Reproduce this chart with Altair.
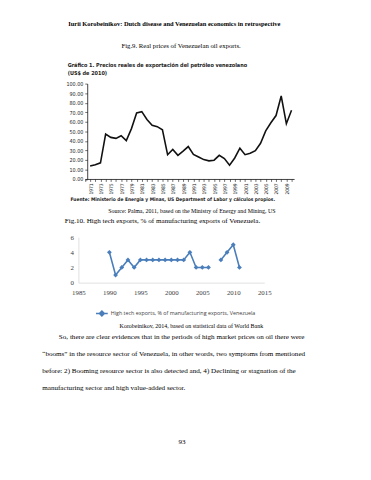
import altair as alt
import pandas as pd

# ---------------- data ----------------
years_oil = list(range(1971, 2011))
oil_prices = [13.5, 15.0, 16.9, 47.0, 43.6, 42.6, 45.3, 40.2, 52.8, 69.2,
              70.6, 62.4, 56.2, 54.9, 51.5, 25.4, 31.0, 24.8, 29.2, 34.0,
              25.8, 23.0, 20.3, 19.0, 19.7, 24.8, 21.4, 14.5, 22.0, 32.3,
              25.5, 26.9, 29.6, 37.4, 50.4, 59.0, 66.5, 87.0, 58.0, 72.0]
oil_y_ticks = list(range(0, 101, 10))
oil_x_ticks = list(range(1970, 2011))

years_ht = list(range(1990, 2012))
high_tech = [4, 1, 2, 3, 2, 3, 3, 3, 3, 3, 3, 3, 3, 4, 2, 2, 2, None, 3, 4, 5, 2]
ht_series = "High tech exports, % of manufacturing exports, Venezuela"
ht_x_ticks = [1985, 1990, 1995, 2000, 2005, 2010, 2015]
ht_y_ticks = [0, 2, 4, 6]

HEADER = "Iurii Korobeinikov: Dutch disease and Venezuelan economics in retrospective"
FIG9 = "Fig.9. Real prices of Venezuelan oil exports."
GRAF_T1 = "Gráfico 1. Precios reales de exportación del petróleo venezolano"
GRAF_T2 = "(US$ de 2010)"
FUENTE = "Fuente: Ministerio de Energía y Minas, US Department of Labor y cálculos propios."
SOURCE9 = "Source: Palma, 2011, based on the Ministry of Energy and Mining, US"
FIG10 = "Fig.10. High tech exports, % of manufacturing exports of Venezuela."
SOURCE10 = "Korobeinikov, 2014, based on statistical data of World Bank"
BODY = [
    "So, there are clear evidences that in the periods of high market prices on oil there were",
    "\u201cbooms\u201d in the resource sector of Venezuela, in other words, two symptoms from mentioned",
    "before: 2) Booming resource sector is also detected and, 4) Declining or stagnation of the",
    "manufacturing sector and high value-added sector.",
]
PAGE_NO = "93"

# ---------------- layout ----------------
W, H = 363, 472
M = 8  # page margin
SERIF = "Liberation Serif, Times New Roman, serif"
NARROW = "Liberation Sans Narrow, DejaVu Sans Condensed, Arial Narrow, sans-serif"


def txt(s, x, y, size, font=SERIF, weight="normal", align="center", style="normal", color="#000"):
    return alt.Chart(alt.Data(values=[{}])).mark_text(
        text=s, fontSize=size, font=font, fontWeight=weight, align=align,
        baseline="middle", fontStyle=style, color=color
    ).encode(x=alt.value(x - M), y=alt.value(y - M))


texts = [
    txt(HEADER, 178, 19, 6.6, weight="bold"),
    txt(FIG9, 185, 42, 6.9),
    txt(GRAF_T1, 69, 61.5, 5.6, font=NARROW, weight="bold", align="left", color="#222"),
    txt(GRAF_T2, 69, 69.5, 5.6, font=NARROW, weight="bold", align="left", color="#222"),
    txt(FUENTE, 72, 198, 5.0, font=NARROW, weight="bold", align="left", color="#222"),
    txt(SOURCE9, 196, 210, 6.06),
    txt(FIG10, 166, 221, 7.27),
    txt(SOURCE10, 195.5, 328, 6.1),
    txt(BODY[0], 60, 339, 7.27, align="left"),
    txt(BODY[1], 43, 356.5, 7.27, align="left"),
    txt(BODY[2], 43, 374, 7.27, align="left"),
    txt(BODY[3], 43, 391.5, 7.27, align="left"),
    txt(PAGE_NO, 186, 447, 7.27),
]

# ---------------- chart 1: oil prices ----------------
df_oil = pd.DataFrame({"year": years_oil, "price": oil_prices})
px_per_year = 5.28
x0 = 92 - M  # 1971
oil_chart = alt.Chart(df_oil).mark_line(color="#111", strokeWidth=1.6).encode(
    x=alt.X("year:Q",
            scale=alt.Scale(domain=[1970, 2010.5], range=[x0 - px_per_year, x0 + 39.5 * px_per_year],
                            nice=False, zero=False),
            axis=alt.Axis(orient="bottom", offset=-(H - (177.5 - M)), values=oil_x_ticks,
                          labelExpr="(datum.value - 1971) % 2 == 0 ? datum.value : ''",
                          labelAngle=270, labelFont=NARROW, labelFontSize=5, labelColor="#222",
                          labelPadding=1.5, tickSize=2.5, tickColor="#111", domainColor="#111",
                          domainWidth=0.8, tickWidth=0.6, grid=False, title=None, labelFlush=False,
                          labelOverlap=False)),
    y=alt.Y("price:Q",
            scale=alt.Scale(domain=[0, 100], range=[177.5 - M, 80 - M], nice=False),
            axis=alt.Axis(orient="left", offset=-(89 - M), values=oil_y_ticks, format=".2f",
                          labelFont=NARROW, labelFontSize=5.5, labelColor="#222", labelPadding=2,
                          tickSize=2.5, tickColor="#111", domainColor="#111", domainWidth=0.8,
                          tickWidth=0.6, grid=False, title=None, labelFlush=False, labelOverlap=False)),
)

# ---------------- chart 2: high tech exports ----------------
df_ht = pd.DataFrame({"year": years_ht, "value": high_tech, "series": ht_series})
BLUE = "#4A7EBB"
ht_chart = alt.Chart(df_ht).mark_line(
    strokeWidth=1.6,
    point=alt.OverlayMarkDef(shape="diamond", size=24, filled=True, color=BLUE),
).encode(
    x=alt.X("year:Q",
            scale=alt.Scale(domain=[1985, 2015], range=[80 - M, 270 - M], nice=False, zero=False),
            axis=alt.Axis(orient="bottom", offset=-(H - (283.5 - M)), values=ht_x_ticks, format="d",
                          labelFont=SERIF, labelFontSize=7, labelColor="#404040", labelPadding=6,
                          ticks=False, domainColor="#d9d9d9", domainWidth=0.8, grid=False,
                          title=None, labelFlush=False)),
    y=alt.Y("value:Q",
            scale=alt.Scale(domain=[0, 6], range=[283.5 - M, 237 - M], nice=False),
            axis=alt.Axis(orient="left", offset=-(80 - M), values=ht_y_ticks,
                          labelFont=SERIF, labelFontSize=7, labelColor="#404040", labelPadding=5,
                          ticks=False, domainColor="#d9d9d9", domainWidth=0.8, grid=False,
                          title=None, labelFlush=False)),
    color=alt.Color("series:N", scale=alt.Scale(range=[BLUE]),
                    legend=alt.Legend(orient="none", legendX=97 - M, legendY=312 - M - 4, title=None,
                                      padding=0, labelFont="Open Sans", labelFontSize=5.5,
                                      labelColor="#404040", labelOffset=2,
                                      symbolType="M-1,0L1,0M0,-0.42L0.42,0L0,0.42L-0.42,0Z",
                                      symbolSize=144, symbolStrokeWidth=1.5,
                                      symbolFillColor=BLUE, symbolStrokeColor=BLUE)),
)

chart = alt.layer(*texts, oil_chart, ht_chart).resolve_scale(
    x="independent", y="independent", color="independent"
).properties(
    width=W, height=H, padding=0, autosize="none", background="white"
).configure_view(strokeWidth=0)

chart.save("out.html", embed_options={"renderer": "svg", "actions": False})
